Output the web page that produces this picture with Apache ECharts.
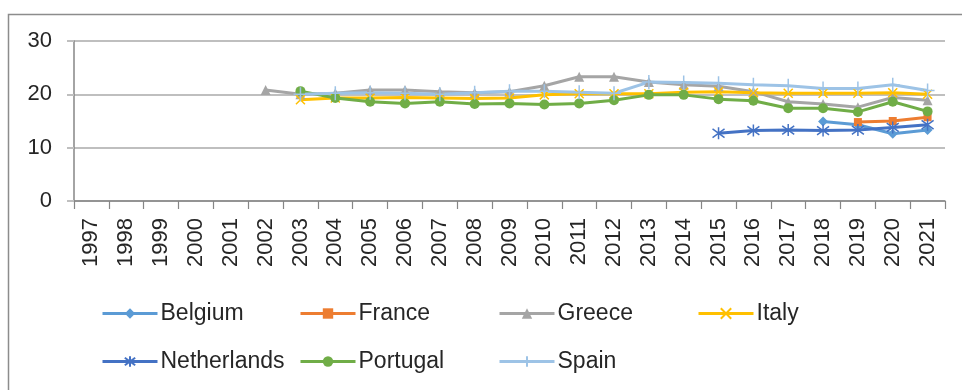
<!DOCTYPE html>
<html>
<head>
<meta charset="utf-8">
<script src="https://cdn.jsdelivr.net/npm/echarts@6/dist/echarts.min.js"></script>
<style>
  html, body { margin: 0; padding: 0; background: #fff; }
  #chart { width: 962px; height: 390px; }
</style>
</head>
<body>
<div id="chart"></div>
<script>
// Years on the category axis
const years = ['1997','1998','1999','2000','2001','2002','2003','2004','2005','2006','2007','2008','2009',
               '2010','2011','2012','2013','2014','2015','2016','2017','2018','2019','2020','2021'];

// Values per country, one entry per year (null = no data)
const belgium     = [null,null,null,null,null,null,null,null,null,null,null,null,null,null,null,null,null,null,null,null,null,14.9,14.3,12.6,13.3];
const france      = [null,null,null,null,null,null,null,null,null,null,null,null,null,null,null,null,null,null,null,null,null,null,14.8,15.0,15.7];
const greece      = [null,null,null,null,null,20.8,20.0,20.2,20.8,20.8,20.5,20.3,20.5,21.6,23.3,23.3,22.3,21.8,21.5,20.5,18.6,18.2,17.6,19.4,18.9];
const italy       = [null,null,null,null,null,null,19.0,19.3,19.3,19.4,19.3,19.2,19.3,19.9,20.1,20.1,20.1,20.4,20.5,20.3,20.2,20.2,20.2,20.3,20.0];
const netherlands = [null,null,null,null,null,null,null,null,null,null,null,null,null,null,null,null,null,null,12.7,13.2,13.3,13.2,13.3,13.8,14.3];
const portugal    = [null,null,null,null,null,null,20.6,19.3,18.6,18.3,18.6,18.2,18.3,18.1,18.3,18.9,19.9,19.9,19.1,18.8,17.4,17.4,16.7,18.6,16.8];
const spain       = [null,null,null,null,null,null,20.0,20.2,20.3,20.2,20.0,20.3,20.6,20.6,20.4,20.2,22.3,22.2,22.1,21.8,21.6,21.1,21.1,21.8,20.7];

const countryNames = ['Belgium','France','Greece','Italy','Netherlands','Portugal','Spain'];
const countryData  = [belgium, france, greece, italy, netherlands, portugal, spain];

// y-axis ticks
const yTicks = [0, 10, 20, 30];

const FONT = '"Liberation Sans", Arial, sans-serif';

// marker look for each country
const looks = [
  { color: '#5B9BD5', symbol: 'diamond', size: 10, stroke: false },
  { color: '#ED7D31', symbol: 'rect', size: 8, stroke: false },
  { color: '#A5A5A5', symbol: 'triangle', size: 10, stroke: false },
  { color: '#FFC000', symbol: 'path://M0,0L10,10M10,0L0,10', size: 9, stroke: true },
  { color: '#4472C4', symbol: 'path://M0,0L10,10M10,0L0,10M5,-2L5,12', size: 12, stroke: true },
  { color: '#70AD47', symbol: 'circle', size: 10, stroke: false },
  { color: '#9DC3E6', symbol: 'path://M5,0L5,10M0,5L10,5', size: 14, stroke: true }
];

const series = countryNames.map((name, i) => {
  const lk = looks[i];
  return {
    name: name,
    type: 'line',
    data: countryData[i],
    symbol: lk.symbol,
    symbolSize: lk.size,
    showAllSymbol: true,
    connectNulls: false,
    lineStyle: { color: lk.color, width: 3 },
    itemStyle: lk.stroke
      ? { color: lk.color, borderColor: lk.color, borderWidth: 1.5 }
      : { color: lk.color, borderWidth: 0 },
    emphasis: { disabled: true },
    animation: false
  };
});

// legend laid out as a 4-column grid
const legendCols = [101, 299, 498, 697];
const legendRows = [302, 350];
const legends = countryNames.map((name, i) => ({
  data: [name],
  left: legendCols[i % 4],
  top: legendRows[Math.floor(i / 4)],
  itemWidth: 55,
  itemHeight: 13,
  itemGap: 0,
  padding: 0,
  lineStyle: { width: 3 },
  textStyle: { fontFamily: FONT, fontSize: 23, color: '#262626', padding: [0, 0, 0, -2] },
  selectedMode: false
}));

const chart = echarts.init(document.getElementById('chart'), null, { renderer: 'canvas' });
chart.setOption({
  animation: false,
  backgroundColor: '#ffffff',
  grid: { left: 74, right: 17, top: 41, bottom: 189, containLabel: false },
  legend: legends,
  xAxis: {
    type: 'category',
    data: years,
    boundaryGap: true,
    axisLine: { show: true, lineStyle: { color: '#868686', width: 1.5 } },
    axisTick: { show: true, length: 8, lineStyle: { color: '#868686', width: 1.2 } },
    axisLabel: { rotate: 90, margin: 17, fontFamily: FONT, fontSize: 22, color: '#262626', interval: 0 },
    splitLine: { show: false }
  },
  yAxis: {
    type: 'value',
    min: yTicks[0],
    max: yTicks[yTicks.length - 1],
    interval: yTicks[1] - yTicks[0],
    axisLine: { show: true, lineStyle: { color: '#868686', width: 1.5 } },
    axisTick: { show: true, length: 7, lineStyle: { color: '#BFBFBF', width: 2 } },
    axisLabel: { margin: 22, fontFamily: FONT, fontSize: 22, color: '#262626' },
    splitLine: { show: true, lineStyle: { color: '#BFBFBF', width: 2 } }
  },
  graphic: [{
    type: 'rect',
    left: 6, top: 12,
    shape: { width: 1000, height: 420 },
    style: { fill: 'none', stroke: '#8C8C8C', lineWidth: 1.5 },
    silent: true
  }],
  series: series
});
</script>
</body>
</html>
